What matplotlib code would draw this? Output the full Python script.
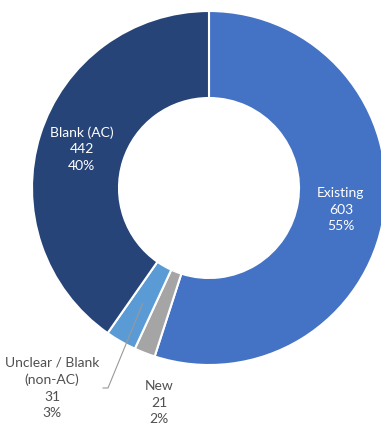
import matplotlib.pyplot as plt
import numpy as np

plt.rcParams['font.family'] = ['Lato', 'DejaVu Sans']

# Segments, clockwise from 12 o'clock
labels = ["Existing", "New", "Unclear / Blank\n(non-AC)", "Blank (AC)"]
counts = [603, 21, 31, 442]
percents = ["55%", "2%", "3%", "40%"]
colors = ["#4472C4", "#A5A5A5", "#5B9BD5", "#264478"]

fig = plt.figure(figsize=(3.81, 4.27), dpi=100)
ax = fig.add_axes([0, 0, 1, 1])

cx, cy = 209, 238
r_out, r_in = 177, 90

wedges, _ = ax.pie(counts, colors=colors, startangle=90, counterclock=False,
                   radius=r_out, center=(cx, cy),
                   wedgeprops=dict(width=r_out - r_in, edgecolor="white", linewidth=1.5))

ax.set_xlim(0, 381)
ax.set_ylim(0, 427)
ax.set_aspect("equal")
ax.axis("off")

fs = 10
ls = 1.45
r_mid = (r_out + r_in) / 2
for i, w in enumerate(wedges):
    txt = f"{labels[i]}\n{counts[i]}\n{percents[i]}"
    if counts[i] > 100:
        ang = np.deg2rad((w.theta1 + w.theta2) / 2)
        ax.text(cx + r_mid * np.cos(ang), cy + r_mid * np.sin(ang), txt,
                ha="center", va="center", color="white", fontsize=fs,
                linespacing=ls)

# small slices get labels outside the ring
ax.text(159, 427 - 403, f"{labels[1]}\n{counts[1]}\n{percents[1]}",
        ha="center", va="center", color="#505050", fontsize=fs, linespacing=ls)
ax.text(52, 427 - 388, f"{labels[2]}\n{counts[2]}\n{percents[2]}",
        ha="center", va="center", color="#505050", fontsize=fs, linespacing=ls)

# leader line for the unclear slice
ang = np.deg2rad((wedges[2].theta1 + wedges[2].theta2) / 2)
sx, sy = cx + r_mid * np.cos(ang), cy + r_mid * np.sin(ang)
ax.plot([sx, 108, 103], [sy, 427 - 389, 427 - 389], color="#999999", lw=0.8)

fig.savefig("out.png", dpi=100)
